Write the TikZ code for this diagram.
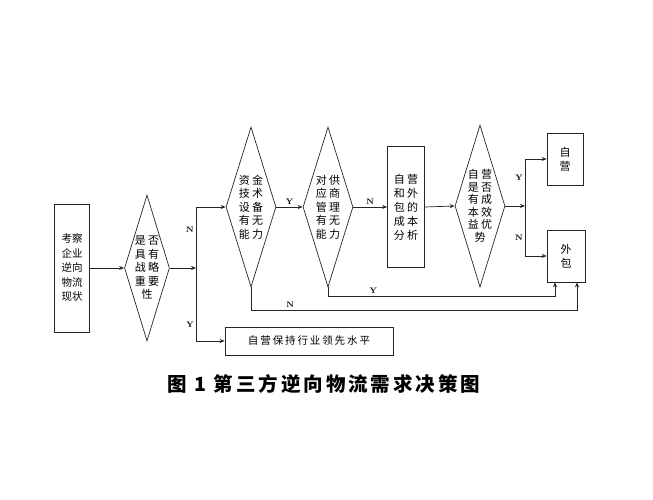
\documentclass[tikz,border=0pt]{standalone}
\usepackage{fontspec}
\newfontfamily\cjk{Noto Sans CJK SC}
\usetikzlibrary{positioning,shapes.geometric,arrows.meta}

\begin{document}
\begin{tikzpicture}[
    x=1pt, y=-1pt,
    box/.style={rectangle, draw=black!85, line width=0.7pt, inner sep=0pt, align=center,
                font=\cjk\fontsize{11}{14}\selectfont},
    decision/.style={diamond, draw=black!85, line width=0.7pt, inner sep=0pt, shape aspect=0.3, align=center,
                font=\cjk\fontsize{11}{13.5}\selectfont},
    arrow/.style={-{Stealth[length=5pt,width=4pt]}, draw=black!85, line width=0.7pt},
    line/.style={draw=black!85, line width=0.7pt},
    yn/.style={font=\bfseries\footnotesize, inner sep=2pt}
  ]
  \useasboundingbox (0,0) rectangle (653,500);

  % main row
  \node[box, minimum width=35pt, minimum height=128pt, font=\cjk\fontsize{10.5}{14.5}\selectfont] (survey) at (72,268) {考察\\企业\\逆向\\物流\\现状};
  \node[decision, minimum width=45pt, minimum height=146pt] (strategic) at (147,268) {是 否\\具 有\\战 略\\重 要\\性};
  \coordinate (split) at (196,268);
  \coordinate (splitN) at (196,207);
  \coordinate (splitY) at (196,341);
  \node[decision, minimum width=50pt, minimum height=160pt] (capital) at (251,207) {资 金\\技 术\\设 备\\有 无\\能 力};
  \node[decision, minimum width=50pt, minimum height=160pt] (supplier) at (328,207) {对 供\\应 商\\管 理\\有 无\\能 力};
  \node[box, minimum width=37pt, minimum height=121pt] (cost) at (406,207) {自 营\\和 外\\包 的\\成 本\\分 析};
  \node[decision, minimum width=50pt, minimum height=162pt, font=\cjk\fontsize{11}{12.5}\selectfont] (benefit) at (480,206) {自 营\\是 否\\有 成\\本 效\\益 优\\势};
  \coordinate (choice) at (525,206);

  % results
  \node[box, minimum width=36pt, minimum height=52pt] (selfrun) at (565,159) {自\\营};
  \node[box, minimum width=38pt, minimum height=52pt] (outsource) at (566,256) {外\\包};
  \node[box, minimum width=168pt, minimum height=28pt, font=\cjk\fontsize{10.5}{14}\selectfont\addfontfeature{LetterSpace=18}] (lead) at (309,341) {自营保持行业领先水平};

  \node[font=\cjk\bfseries\fontsize{19.5}{22}\selectfont\addfontfeature{LetterSpace=15}] (caption) at (324,384) {图 1 第三方逆向物流需求决策图};

  % connectors
  \draw[arrow] (survey) -- (strategic);
  \draw[arrow] (strategic.east) -- (split);
  \draw[line] (splitN) -- node[yn, left, pos=0.17] {N} node[yn, left, pos=0.88] {Y} (splitY);
  \draw[arrow] (splitN) -- (capital.west);
  \draw[arrow] (splitY) -- (lead.west);
  \draw[arrow] (capital.east) -- node[yn, above] {Y} (supplier.west);
  \draw[arrow] (supplier.east) -- node[yn, above] {N} (cost.west);
  \draw[arrow] (cost.east) -- (benefit.west);
  \draw[arrow] (benefit.east) -- (choice);
  \draw[arrow] (choice) |- node[yn, left, pos=0.3] {Y} (selfrun.west);
  \draw[arrow] (choice) |- node[yn, left, pos=0.32] {N} (outsource.west);

  % loops back to outsourcing
  \draw[arrow] (capital.south) |- (577,310) node[yn, above, pos=0.56] {N} -- ([xshift=11pt]outsource.south);
  \draw[arrow] (supplier.south) |- (555,296) node[yn, above, pos=0.6] {Y} -- ([xshift=-11pt]outsource.south);
\end{tikzpicture}
\end{document}
